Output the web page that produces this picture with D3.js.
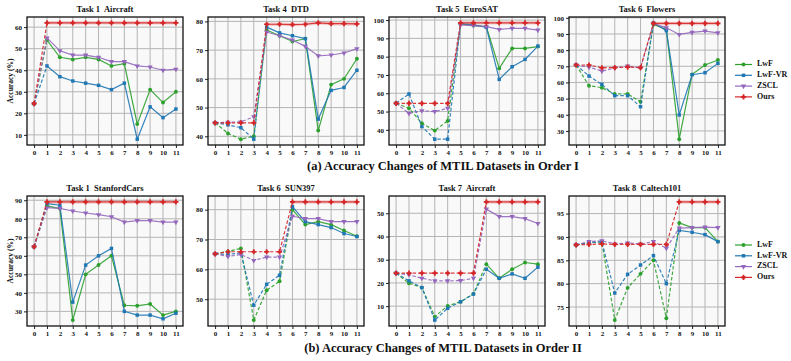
<!DOCTYPE html>
<html><head><meta charset="utf-8">
<script src="https://cdn.jsdelivr.net/npm/d3@7"></script>
<style>
body{margin:0;background:#fff}
svg{display:block}
text{font-family:"Liberation Serif","DejaVu Serif",serif;font-weight:bold;fill:#111}
</style>
</head><body>
<svg id="chart" width="791" height="361"></svg>
<script>
// ---------- data ----------
const steps = [0,1,2,3,4,5,6,7,8,9,10,11];
const methods = ["LwF","LwF-VR","ZSCL","Ours"];

// Order I
const titlesI = ["Task 1  Aircraft","Task 4  DTD","Task 5  EuroSAT","Task 6  Flowers"];
const taskStepI = [1,4,5,6];
const yTicksI = [[10,20,30,40,50,60],[40,50,60,70,80],[40,50,60,70,80,90,100],[30,40,50,60,70,80,90,100]];

const aircraftI_LwF   = [24.5,54,46,45,46,45,42,43,15,31,25,30];
const aircraftI_LwFVR = [24.5,42,37,35,34,33,31,34,8,23,18,22];
const aircraftI_ZSCL  = [24.5,55,49,47,47,46,44,44,42,41.5,40,40.5];
const aircraftI_Ours  = [24.5,62,62,62,62,62,62,62,62,62,62,62];

const dtdI_LwF   = [44.7,41,39,40,77,75,73,74,42,58,60,67];
const dtdI_LwFVR = [44.7,44,43,39,78,76,75,74,46,56,57,63];
const dtdI_ZSCL  = [44.7,44.9,45,46.8,76.3,75,73.5,71.3,68,68.3,69,70.5];
const dtdI_Ours  = [44.7,44.7,44.7,44.7,79,79,78.9,79,79.5,79.2,79.2,79.1];

const eurosatI_LwF   = [54.5,51.8,43.6,39.6,44.9,98,97,96.4,73.6,84.5,84.5,85.5];
const eurosatI_LwFVR = [54.5,59.6,41.8,34.9,34.9,98,97.5,96,67.6,74.5,78.5,85.8];
const eurosatI_ZSCL  = [54.5,49,50.4,50,51.8,97.3,97,96.4,94.9,95.5,95.5,94.5];
const eurosatI_Ours  = [54.5,54.5,54.5,54.5,54.5,98.5,98.5,98.5,98.5,98.5,98.5,98.5];

const flowersI_LwF   = [70.8,58,56.8,52.9,52.9,48.1,95.9,92.8,24.9,65,70.8,73.9];
const flowersI_LwFVR = [70.8,64,58.8,51.8,51.8,45,96.9,92,39.9,64.8,66,71.8];
const flowersI_ZSCL  = [70.8,69.5,67,69,70.1,69,96.5,93.8,89.7,91,91.8,90.7];
const flowersI_Ours  = [70.8,70.8,69.1,69.2,69.5,69.2,96.5,96.5,96.5,96.5,96.5,96.5];

// Order II
const titlesII = ["Task 1  StanfordCars","Task 6  SUN397","Task 7  Aircraft","Task 8  Caltech101"];
const taskStepII = [1,6,7,8];
const yTicksII = [[30,40,50,60,70,80,90],[50,60,70,80],[10,20,30,40,50],[75,80,85,90,95]];

const carsII_LwF   = [64.9,87,85.5,25.3,50,55,60,33.3,33,34,28,30];
const carsII_LwFVR = [64.9,88.2,87.3,35,55,60,64,30,28,28,26,29];
const carsII_ZSCL  = [64.9,86,85.6,84.2,83.1,82.2,81.1,78.2,79,79,78.2,78.2];
const carsII_Ours  = [64.9,89.1,89.1,89.1,89.1,89.1,89.1,89.1,89.1,89.1,89.1,89.1];

const sunII_LwF   = [65.2,66,67,43,53,56,80,75,76,75,73,71.1];
const sunII_LwFVR = [65.2,65,65.5,48,55,58,81,76,75,74,72,71];
const sunII_ZSCL  = [65.2,64.3,65,63,64.1,64.1,77.8,77,77,76,76,76];
const sunII_Ours  = [65.2,65.9,65.9,65.9,65.9,65.9,82.6,82.6,82.6,82.6,82.6,82.6];

const aircraftII_LwF   = [24.2,19.9,18,5.5,10.1,11.9,15.3,28.1,22,25.9,28.8,28.1];
const aircraftII_LwFVR = [24.2,20.9,18,4.0,9.1,11.9,15.2,25.9,22,23.9,22,26.8];
const aircraftII_ZSCL  = [24.2,23.5,22,20.9,20.9,21,22,51.8,48.6,48.6,47.7,45.6];
const aircraftII_Ours  = [24.2,24.2,24.2,24.2,24.2,24.2,24.2,54.9,54.9,54.9,54.9,54.9];

const caltechII_LwF   = [88.3,88.8,88.9,72.2,79.1,82.1,85,72.6,93,92,92,89];
const caltechII_LwFVR = [88.3,88.8,89,78,82,84,86,80,91.4,91,90.5,89];
const caltechII_ZSCL  = [88.3,89,89.2,88.5,88.7,88.5,89,87.6,91.9,92,92.1,92];
const caltechII_Ours  = [88.3,88.4,88.5,88.4,88.4,88.4,88.4,88.4,97.5,97.5,97.5,97.5];

const seriesI = [
  [aircraftI_LwF,aircraftI_LwFVR,aircraftI_ZSCL,aircraftI_Ours],
  [dtdI_LwF,dtdI_LwFVR,dtdI_ZSCL,dtdI_Ours],
  [eurosatI_LwF,eurosatI_LwFVR,eurosatI_ZSCL,eurosatI_Ours],
  [flowersI_LwF,flowersI_LwFVR,flowersI_ZSCL,flowersI_Ours]
];
const seriesII = [
  [carsII_LwF,carsII_LwFVR,carsII_ZSCL,carsII_Ours],
  [sunII_LwF,sunII_LwFVR,sunII_ZSCL,sunII_Ours],
  [aircraftII_LwF,aircraftII_LwFVR,aircraftII_ZSCL,aircraftII_Ours],
  [caltechII_LwF,caltechII_LwFVR,caltechII_ZSCL,caltechII_Ours]
];

// ---------- style ----------
const colors = {"LwF":"#2ca02c","LwF-VR":"#1f77b4","ZSCL":"#9467bd","Ours":"#d62728"};
const symbols = {"LwF":d3.symbolCircle,"LwF-VR":d3.symbolSquare,"ZSCL":d3.symbolTriangle,"Ours":d3.symbolCross};
const symSize = {"LwF":12,"LwF-VR":12,"ZSCL":12,"Ours":15};
const symRot = {"LwF":0,"LwF-VR":0,"ZSCL":180,"Ours":0};

const svg = d3.select("#chart");
const panelX = [27,208,389,569];
const panelW = 156;
const rows = [
  {top:17,bottom:145,titles:titlesI,task:taskStepI,ticks:yTicksI,series:seriesI,caption:"(a) Accuracy Changes of MTIL Datasets in Order I",capY:169.5},
  {top:196,bottom:326,titles:titlesII,task:taskStepII,ticks:yTicksII,series:seriesII,caption:"(b) Accuracy Changes of MTIL Datasets in Order II",capY:352}
];

rows.forEach((row,ri)=>{
  row.series.forEach((ser,pi)=>{
    const x0 = panelX[pi];
    const all = ser.flat();
    const mn = d3.min(all), mx = d3.max(all), pad = (mx-mn)*0.05;
    const x = d3.scaleLinear().domain([-0.55,11.55]).range([x0,x0+panelW]);
    const y = d3.scaleLinear().domain([mn-pad,mx+pad]).range([row.bottom,row.top]);
    const g = svg.append("g");
    g.append("rect").attr("x",x0).attr("y",row.top).attr("width",panelW).attr("height",row.bottom-row.top)
      .attr("fill","#f9f9f9");
    // grid
    g.selectAll(".vg").data(steps).join("line")
      .attr("x1",d=>x(d)).attr("x2",d=>x(d)).attr("y1",row.top).attr("y2",row.bottom)
      .attr("stroke","#b4b4b4").attr("stroke-width",1);
    g.selectAll(".hg").data(row.ticks[pi]).join("line")
      .attr("x1",x0).attr("x2",x0+panelW).attr("y1",d=>y(d)).attr("y2",d=>y(d))
      .attr("stroke","#b4b4b4").attr("stroke-width",1);
    // axes
    const xa = g.append("g").attr("transform",`translate(0,${row.bottom})`)
      .call(d3.axisBottom(x).tickValues(steps).tickSize(3).tickPadding(2).tickFormat(d3.format("d")));
    const ya = g.append("g").attr("transform",`translate(${x0},0)`)
      .call(d3.axisLeft(y).tickValues(row.ticks[pi]).tickSize(3).tickPadding(2).tickFormat(d3.format("d")));
    [xa,ya].forEach(a=>{
      a.select(".domain").remove();
      a.selectAll("text").style("font-size","7px").style("font-family",'"Liberation Serif",serif').style("font-weight","bold").attr("fill","#111");
      a.selectAll("line").attr("stroke","#222");
    });
    // lines
    const k = row.task[pi];
    methods.forEach((m,mi)=>{
      const vals = ser[mi];
      const pts = steps.map((s,i)=>[s,vals[i]]);
      const line = d3.line().x(d=>x(d[0])).y(d=>y(d[1]));
      const dashed = pts.filter(d=>d[0]<=k), solid = pts.filter(d=>d[0]>=k);
      if(m==="Ours"){
        g.append("path").attr("d",line(solid)).attr("fill","none").attr("stroke",colors[m])
          .attr("stroke-width",3.5).attr("stroke-opacity",0.22);
      }
      g.append("path").attr("d",line(dashed)).attr("fill","none").attr("stroke",colors[m])
        .attr("stroke-width",1.2).attr("stroke-dasharray","3.5,2").attr("stroke-opacity",0.9);
      g.append("path").attr("d",line(solid)).attr("fill","none").attr("stroke",colors[m])
        .attr("stroke-width",1.2).attr("stroke-opacity",0.9);
      g.selectAll(null).data(pts).join("path")
        .attr("transform",d=>`translate(${x(d[0])},${y(d[1])}) rotate(${symRot[m]})`)
        .attr("d",d3.symbol().type(symbols[m]).size(symSize[m]))
        .attr("fill",colors[m]);
      if(m==="Ours"){
        g.selectAll(null).data(pts).join("circle")
          .attr("cx",d=>x(d[0])).attr("cy",d=>y(d[1])).attr("r",1.6).attr("fill",colors[m]);
      }
    });
    // frame
    g.append("rect").attr("x",x0).attr("y",row.top).attr("width",panelW).attr("height",row.bottom-row.top)
      .attr("fill","none").attr("stroke","#111").attr("stroke-width",1.3);
    // title
    g.append("text").attr("x",x0+panelW/2).attr("y",row.top-5).attr("text-anchor","middle")
      .style("font-size","8.5px").style("white-space","pre").text(row.titles[pi]);
    if(pi===0){
      g.append("text").attr("transform",`translate(11,${(row.top+row.bottom)/2}) rotate(-90)`)
        .attr("text-anchor","middle").attr("dominant-baseline","middle")
        .style("font-size","7.5px").text("Accuracy (%)");
    }
  });
  // legend
  const lg = svg.append("g").attr("transform",`translate(735,${ri===0?64.5:245})`);
  methods.forEach((m,mi)=>{
    const yy = mi*10.8;
    lg.append("line").attr("x1",0).attr("x2",17).attr("y1",yy).attr("y2",yy)
      .attr("stroke",colors[m]).attr("stroke-width",1.2);
    lg.append("path").attr("transform",`translate(8.5,${yy}) rotate(${symRot[m]})`)
      .attr("d",d3.symbol().type(symbols[m]).size(symSize[m])).attr("fill",colors[m]);
    if(m==="Ours") lg.append("circle").attr("cx",8.5).attr("cy",yy).attr("r",1.6).attr("fill",colors[m]);
    lg.append("text").attr("x",22).attr("y",yy).attr("dominant-baseline","middle")
      .style("font-size","8px").text(m);
  });
  // caption
  svg.append("text").attr("x",443).attr("y",row.capY).attr("text-anchor","middle")
    .style("font-size","12.5px").text(row.caption);
});
</script>
</body></html>
